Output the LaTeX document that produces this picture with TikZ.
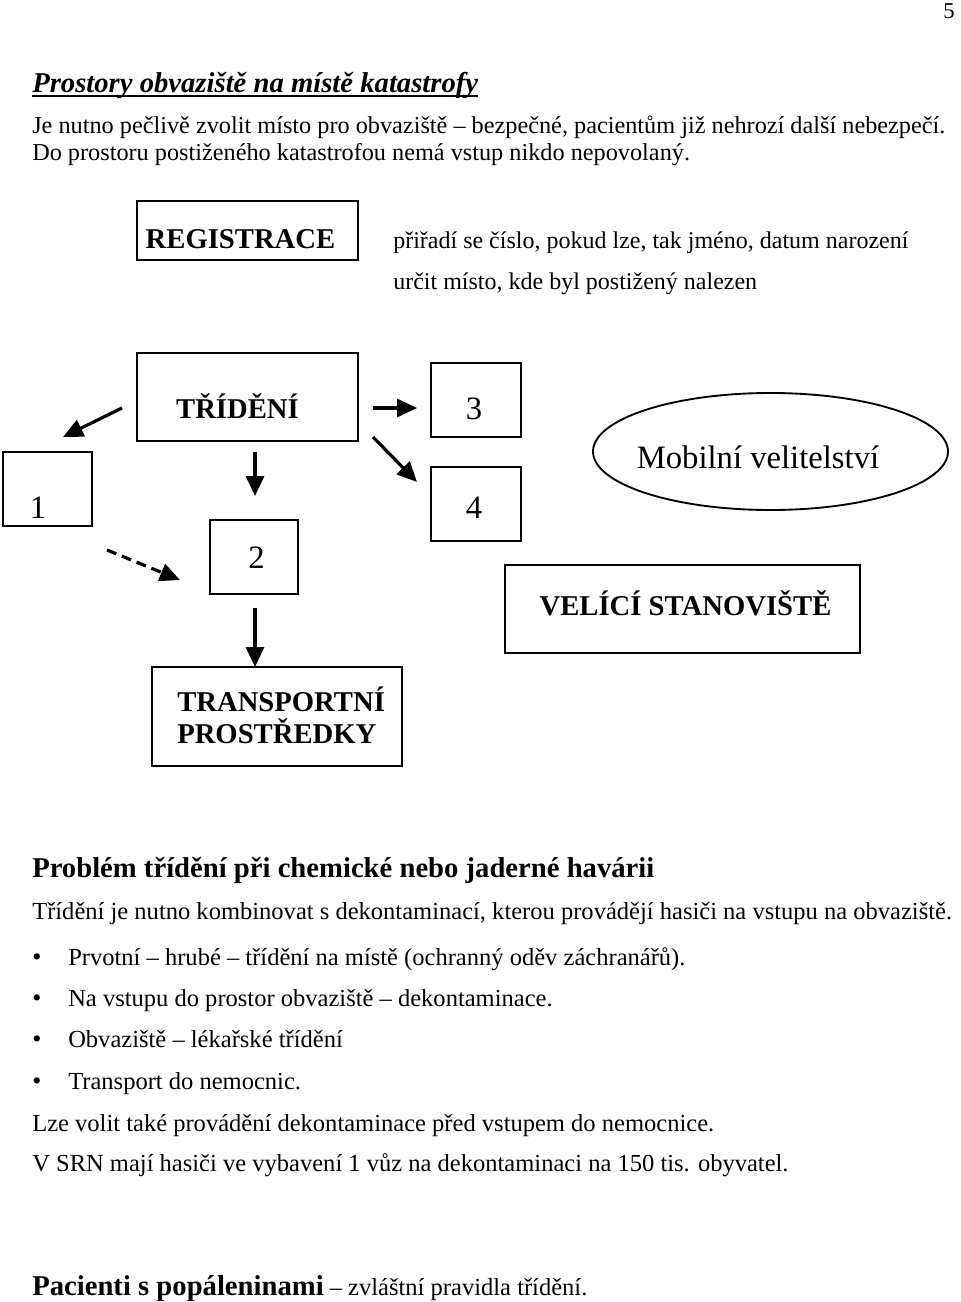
\documentclass[tikz,border=0pt]{standalone}
\usepackage{fontspec}
\setmainfont{Liberation Serif}
\usetikzlibrary{arrows.meta,shapes.geometric}
\begin{document}
\begin{tikzpicture}[x=0.75pt,y=-0.75pt,
  txt/.style={inner sep=0pt, anchor=base west, font=\fontsize{18.4}{21}\selectfont},
  head/.style={inner sep=0pt, anchor=base west, font=\fontsize{21.5}{24}\selectfont\bfseries},
  lbl/.style={inner sep=0pt, anchor=base, font=\fontsize{21.5}{24}\selectfont\bfseries},
  num/.style={inner sep=0pt, anchor=base, font=\fontsize{24.5}{28}\selectfont},
  frame/.style={draw=black, line width=1.4pt, inner sep=0pt},
  arr/.style={line width=2.4pt, -{Triangle[length=15pt,width=13.5pt]}},
  dasharr/.style={arr, dash pattern=on 7.5pt off 4.5pt},
  bul/.style={inner sep=0pt, anchor=base, font=\fontsize{19.5}{21}\selectfont}]
\fill[white] (0,0) rectangle (960,1302);
\useasboundingbox (0,0) rectangle (960,1302);

% page number
\node[inner sep=0pt, anchor=base east, font=\fontsize{17}{20}\selectfont] (pg) at (955,19) {5};

% title and intro
\node[inner sep=0pt, anchor=base west, font=\fontsize{21.5}{24}\selectfont\bfseries\itshape] (title) at (32,93) {Prostory obvaziště na místě katastrofy};
\draw[line width=1.5pt] ([yshift=-2.6pt]title.base west) -- ([yshift=-2.6pt]title.base east);
\node[txt, font=\fontsize{18.2}{21}\selectfont] (l1) at (32,134) {Je nutno pečlivě zvolit místo pro obvaziště – bezpečné, pacientům již nehrozí další nebezpečí.};
\node[txt, font=\fontsize{18.2}{21}\selectfont] (l2) at (32,161) {Do prostoru postiženého katastrofou nemá vstup nikdo nepovolaný.};

% registrace
\node[frame, minimum width=165.75pt, minimum height=44.25pt] (regbox) at (247.5,230.5) {};
\node[lbl] (reg) at (240.5,248) {REGISTRACE};
\node[txt, font=\fontsize{18}{21}\selectfont] (reg1) at (393,248) {přiřadí se číslo, pokud lze, tak jméno, datum narození};
\node[txt, font=\fontsize{18}{21}\selectfont] (reg2) at (393,289) {určit místo, kde byl postižený nalezen};

% boxes
\node[frame, minimum width=165.75pt, minimum height=66pt] (tribox) at (247.5,397) {};
\node[lbl] (tri) at (237.5,418) {TŘÍDĚNÍ};
\node[frame, minimum width=66.75pt, minimum height=55.5pt] (box1) at (47.5,489) {};
\node[num] (t1) at (38,518) {1};
\node[frame, minimum width=66pt, minimum height=55.5pt] (box2) at (254,557) {};
\node[num] (t2) at (256.5,568) {2};
\node[frame, minimum width=67.5pt, minimum height=55.5pt] (box3) at (476,400) {};
\node[num] (t3) at (474,419) {3};
\node[frame, minimum width=67.5pt, minimum height=55.5pt] (box4) at (476,504) {};
\node[num] (t4) at (474,518) {4};
\node[frame, ellipse, minimum width=266.25pt, minimum height=87.75pt] (mobell) at (770.5,451.5) {};
\node[num] (mob) at (758,468) {Mobilní velitelství};
\node[frame, minimum width=266.25pt, minimum height=66pt] (velbox) at (682.5,609) {};
\node[lbl] (vel) at (685.5,615) {VELÍCÍ STANOVIŠTĚ};
\node[frame, minimum width=187.5pt, minimum height=74.25pt] (transbox) at (277,716.5) {};
\node[head] (trans1) at (177,711) {TRANSPORTNÍ};
\node[head] (trans2) at (177,743) {PROSTŘEDKY};

% arrows
\coordinate (a1s) at (122,408); \coordinate (a1e) at (63,437);
\coordinate (a2s) at (255,452); \coordinate (a2e) at (255,496);
\coordinate (a3s) at (107,550); \coordinate (a3e) at (180,580);
\coordinate (a4s) at (373,408); \coordinate (a4e) at (417,408);
\coordinate (a5s) at (373,437); \coordinate (a5e) at (417,482);
\coordinate (a6s) at (255,608); \coordinate (a6e) at (255,667);
\draw[arr] (a1s) -- (a1e);
\draw[arr] (a2s) -- (a2e);
\draw[dasharr] (a3s) -- (a3e);
\draw[arr] (a4s) -- (a4e);
\draw[arr] (a5s) -- (a5e);
\draw[arr] (a6s) -- (a6e);

% lower text
\node[head] (prob) at (32,877) {Problém třídění při chemické nebo jaderné havárii};
\node[txt] (p1) at (32,919) {Třídění je nutno kombinovat s dekontaminací, kterou provádějí hasiči na vstupu na obvaziště.};
\node[bul] (b1) at (37,965) {•};
\node[txt] (i1) at (68,965) {Prvotní – hrubé – třídění na místě (ochranný oděv záchranářů).};
\node[bul] (b2) at (37,1006) {•};
\node[txt] (i2) at (68,1006) {Na vstupu do prostor obvaziště – dekontaminace.};
\node[bul] (b3) at (37,1047) {•};
\node[txt] (i3) at (68,1047) {Obvaziště – lékařské třídění};
\node[bul] (b4) at (37,1089) {•};
\node[txt] (i4) at (68,1089) {Transport do nemocnic.};
\node[txt] (p2) at (32,1131) {Lze volit také provádění dekontaminace před vstupem do nemocnice.};
\node[txt] (p3) at (32,1171) {V SRN mají hasiči ve vybavení 1 vůz na dekontaminaci na 150 tis. obyvatel.};
\node[txt] (p4) at (32,1295) {{\fontsize{21.5}{24}\selectfont\bfseries Pacienti s popáleninami} – zvláštní pravidla třídění.};
\end{tikzpicture}
\end{document}
